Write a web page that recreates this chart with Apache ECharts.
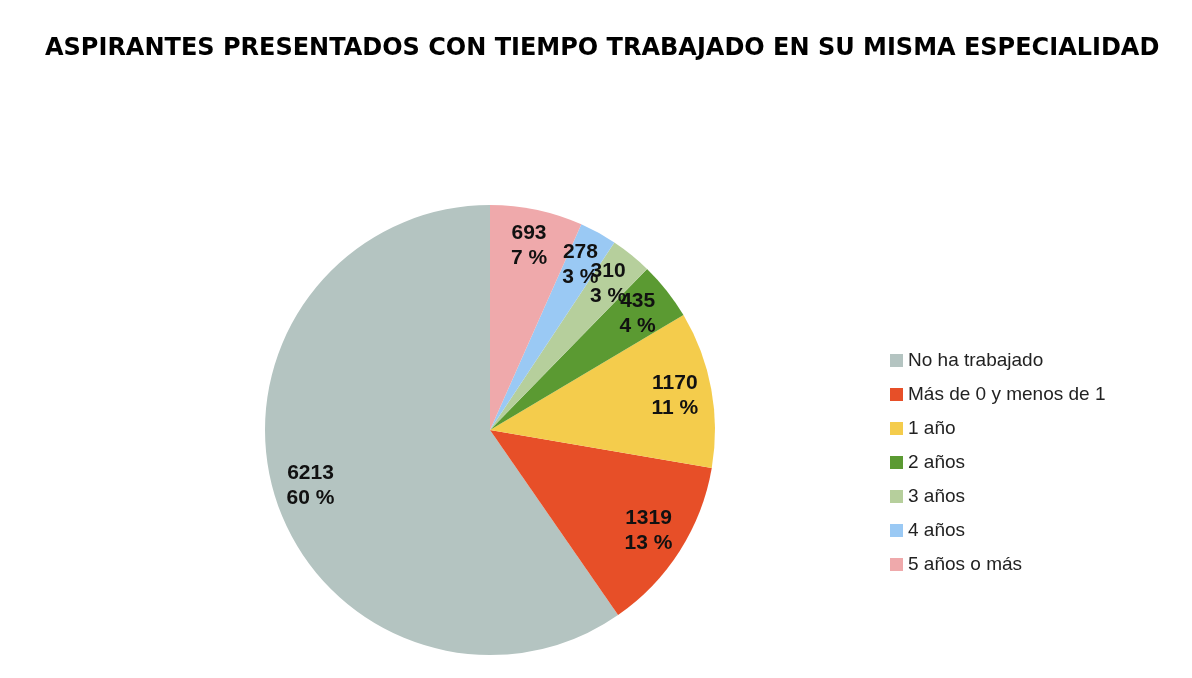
<!DOCTYPE html>
<html><head><meta charset="utf-8">
<script src="https://cdn.jsdelivr.net/npm/echarts@6/dist/echarts.min.js"></script>
<style>html,body{margin:0;background:#fff}#c{width:1192px;height:678px}</style>
</head><body><div id="c"></div>
<script>
const categories = ["No ha trabajado","Más de 0 y menos de 1","1 año","2 años","3 años","4 años","5 años o más"];
const values = [6213,1319,1170,435,310,278,693];
const colors = ["#b4c4c1","#e74f28","#f4cc4c","#5b9a32","#b6cf9c","#9ac9f4","#efa9ab"];
const chart = echarts.init(document.getElementById('c'));
const data = categories.map((n,i)=>({name:n,value:values[i]}));
chart.setOption({
  title:{text:"ASPIRANTES PRESENTADOS CON TIEMPO TRABAJADO EN SU MISMA ESPECIALIDAD",left:40,top:32,
    textStyle:{fontFamily:"DejaVu Sans",fontWeight:"bold",fontSize:24,color:"#000"}},
  legend:{orient:"vertical",left:885,top:346,itemWidth:13,itemHeight:13,itemGap:15,
    icon:"rect",textStyle:{fontFamily:"Liberation Sans",fontSize:19,color:"#222"},data:categories},
  color:colors,
  series:[{type:"pie",center:[490,430],radius:[0,225],startAngle:90,clockwise:false,
    label:{show:false},labelLine:{show:false},data:data},
  {type:"pie",center:[490,430],radius:[120,250],startAngle:90,clockwise:false,silent:true,
    itemStyle:{color:"rgba(0,0,0,0)"},legendHoverLink:false,
    label:{position:"inner",fontFamily:"Liberation Sans",fontWeight:"bold",fontSize:21,color:"#111",
      lineHeight:25,formatter:p=>p.value+"\n"+Math.round(p.percent)+" %"},
    labelLine:{show:false},labelLayout:{hideOverlap:false},data:data}]
});
</script></body></html>
